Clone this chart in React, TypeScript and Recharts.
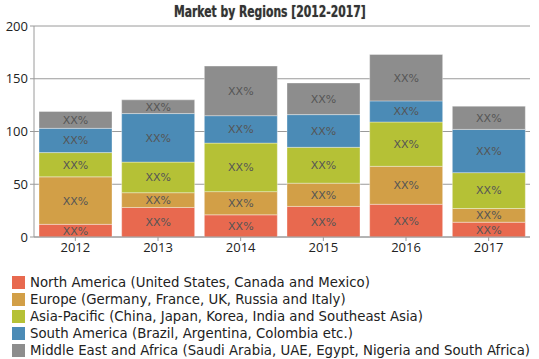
import React from 'react';
import { BarChart, Bar, XAxis, YAxis, CartesianGrid, LabelList } from 'recharts';

const years = ['2012', '2013', '2014', '2015', '2016', '2017'];
const northAmerica = [12, 28, 21, 29, 31, 14];
const europe = [45, 14, 22, 22, 36, 13];
const asiaPacific = [23, 29, 46, 34, 42, 34];
const southAmerica = [23, 46, 26, 31, 20, 41];
const middleEast = [16, 13, 47, 30, 44, 22];
const yTicks = [0, 50, 100, 150, 200];

const series = [
  { key: 'na', name: 'North America (United States, Canada and Mexico)', color: '#E8694F' },
  { key: 'eu', name: 'Europe (Germany, France, UK, Russia and Italy)', color: '#D29F47' },
  { key: 'ap', name: 'Asia-Pacific (China, Japan, Korea, India and Southeast Asia)', color: '#B5C136' },
  { key: 'sa', name: 'South America (Brazil, Argentina, Colombia etc.)', color: '#4B8BB6' },
  { key: 'me', name: 'Middle East and Africa (Saudi Arabia, UAE, Egypt, Nigeria and South Africa)', color: '#8D8D8D' },
];

const data = years.map((year, i) => ({
  year,
  na: northAmerica[i],
  eu: europe[i],
  ap: asiaPacific[i],
  sa: southAmerica[i],
  me: middleEast[i],
}));

const tickFont = { fontSize: 13, fill: '#222', fontFamily: '"Open Sans", sans-serif' };

const App: React.FC = () => {
  return (
    <div style={{ position: 'absolute', left: 0, top: 0, width: 539, height: 359, background: '#fff' }}>
      <div style={{ position: 'absolute', top: 3, left: 0, width: 539, textAlign: 'center' }}>
        <span
          style={{
            display: 'inline-block',
            transform: 'scaleX(0.8)',
            fontFamily: '"DejaVu Sans Condensed", sans-serif',
            fontWeight: 900,
            fontSize: 15,
            color: '#333',
            textShadow: '0 0 1px #999',
          }}
        >
          Market by Regions [2012-2017]
        </span>
      </div>
      <BarChart
        width={539}
        height={262}
        data={data}
        margin={{ top: 26, right: 9, bottom: 0, left: 0 }}
        barCategoryGap={5}
      >
        <CartesianGrid vertical={false} stroke="#9a9a9a" />
        <XAxis
          dataKey="year"
          tick={tickFont}
          stroke="#9a9a9a"
          tickSize={4}
          height={25}
        />
        <YAxis
          ticks={yTicks}
          domain={[0, 200]}
          tick={tickFont}
          stroke="#9a9a9a"
          tickSize={4}
          width={34}
          interval={0}
        />
        {series.map((s) => (
          <Bar
            key={s.key}
            dataKey={s.key}
            stackId="a"
            fill={s.color}
            stroke="rgba(255,255,255,0.35)"
            strokeWidth={1}
            isAnimationActive={false}
          >
            <LabelList
              dataKey={s.key}
              position="center"
              formatter={() => 'XX%'}
              style={{ fontSize: 11, fill: '#555', fontFamily: '"DejaVu Sans", sans-serif' }}
            />
          </Bar>
        ))}
      </BarChart>
      <div style={{ position: 'absolute', left: 12, top: 274 }}>
        {series.map((s) => (
          <div
            key={s.key}
            style={{
              display: 'flex',
              alignItems: 'center',
              height: 17,
              fontFamily: '"DejaVu Sans", sans-serif',
              fontSize: 13.3,
              color: '#222',
              whiteSpace: 'nowrap',
            }}
          >
            <span style={{ display: 'inline-block', width: 13, height: 13, background: s.color, marginRight: 5 }} />
            {s.name}
          </div>
        ))}
      </div>
    </div>
  );
};

export default App;
